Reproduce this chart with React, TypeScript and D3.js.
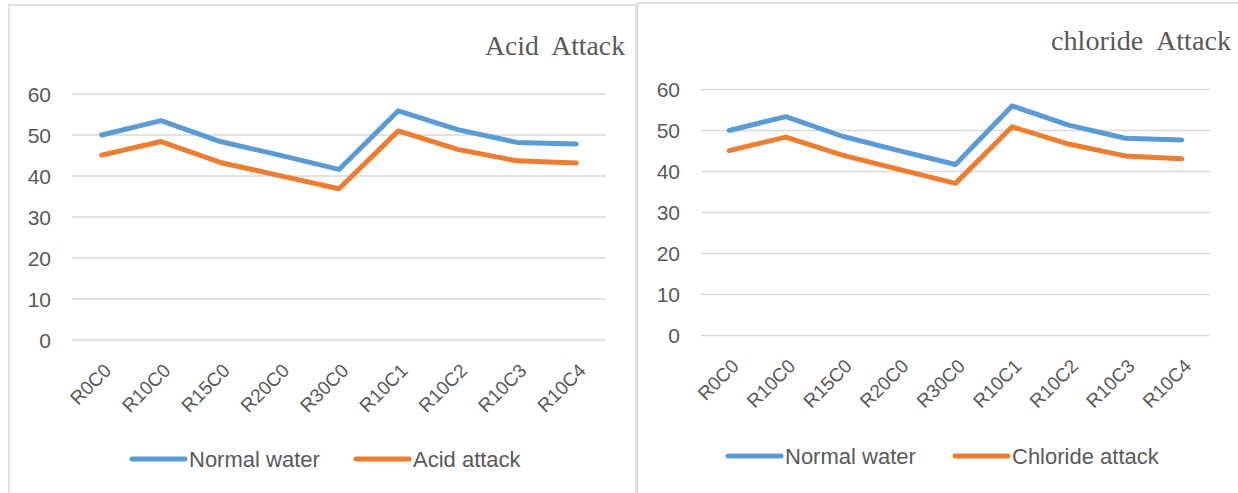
import React, { useEffect, useRef } from "react";
import * as d3 from "d3";

const categories = ["R0C0", "R10C0", "R15C0", "R20C0", "R30C0", "R10C1", "R10C2", "R10C3", "R10C4"];
const yTicks = [0, 10, 20, 30, 40, 50, 60];

const acidNormal = [50.0, 53.5, 48.4, 45.1, 41.6, 55.9, 51.3, 48.2, 47.8];
const acidAttack = [45.1, 48.4, 43.3, 40.1, 36.9, 51.0, 46.5, 43.7, 43.2];

const chlorideNormal = [50.0, 53.4, 48.6, 45.1, 41.7, 56.0, 51.3, 48.1, 47.7];
const chlorideAttack = [45.1, 48.4, 44.0, 40.5, 37.1, 50.9, 46.7, 43.8, 43.1];

const BLUE = "#5b9bd5";
const ORANGE = "#ed7d31";
const GRID = "#d9d9d9";
const TEXT = "#595959";
const SANS = "'Liberation Sans', Arial, sans-serif";
const SERIF = "'Liberation Serif', 'Times New Roman', serif";

interface PanelProps {
  title: string;
  seriesA: number[];
  seriesB: number[];
  labelA: string;
  labelB: string;
  box: { x: number; y: number; w: number; h: number };
  plot: { left: number; right: number; top: number; bottom: number };
  titleRight: number;
  titleBaseline: number;
  titleWidth: number;
  legendY: number;
  legendX: number[];
}

const Panel: React.FC<PanelProps> = (p) => {
  const ref = useRef<SVGGElement | null>(null);

  useEffect(() => {
    if (!ref.current) return;
    const g = d3.select(ref.current);
    g.selectAll("*").remove();

    // chart frame
    g.append("rect")
      .attr("x", p.box.x)
      .attr("y", p.box.y)
      .attr("width", p.box.w)
      .attr("height", p.box.h)
      .attr("fill", "#fff")
      .attr("stroke", GRID)
      .attr("stroke-width", 1.5);

    g.append("text")
      .attr("x", p.titleRight)
      .attr("y", p.titleBaseline)
      .attr("text-anchor", "end")
      .attr("font-family", SERIF)
      .attr("font-size", 28)
      .attr("fill", TEXT)
      .attr("textLength", p.titleWidth)
      .attr("lengthAdjust", "spacingAndGlyphs")
      .style("white-space", "pre")
      .text(p.title);

    const x = d3.scaleBand<string>().domain(categories).range([p.plot.left, p.plot.right]);
    const y = d3.scaleLinear().domain([0, 60]).range([p.plot.bottom, p.plot.top]);
    const cx = (i: number) => (x(categories[i]) || 0) + x.bandwidth() / 2;

    // gridlines
    g.append("g")
      .selectAll("line")
      .data(yTicks)
      .enter()
      .append("line")
      .attr("x1", p.plot.left)
      .attr("x2", p.plot.right)
      .attr("y1", (d) => y(d))
      .attr("y2", (d) => y(d))
      .attr("stroke", GRID)
      .attr("stroke-width", 1.5);

    g.append("g")
      .selectAll("text")
      .data(yTicks)
      .enter()
      .append("text")
      .attr("x", p.plot.left - 21)
      .attr("y", (d) => y(d))
      .attr("dy", "0.36em")
      .attr("text-anchor", "end")
      .attr("font-family", SANS)
      .attr("font-size", 21)
      .attr("fill", TEXT)
      .text((d) => String(d));

    // category labels, rotated
    g.append("g")
      .selectAll("text")
      .data(categories)
      .enter()
      .append("text")
      .attr("transform", (_, i) => `translate(${cx(i) + 6},${p.plot.bottom + 27}) rotate(-45)`)
      .attr("text-anchor", "end")
      .attr("dy", "0.35em")
      .attr("font-family", SANS)
      .attr("font-size", 19)
      .attr("fill", TEXT)
      .text((d) => d);

    const line = d3
      .line<number>()
      .x((_, i) => cx(i))
      .y((d) => y(d));

    [
      { data: p.seriesA, color: BLUE },
      { data: p.seriesB, color: ORANGE },
    ].forEach((s) => {
      g.append("path")
        .attr("d", line(s.data) || "")
        .attr("fill", "none")
        .attr("stroke", s.color)
        .attr("stroke-width", 5)
        .attr("stroke-linejoin", "round")
        .attr("stroke-linecap", "round");
    });

    // legend
    [
      { label: p.labelA, color: BLUE },
      { label: p.labelB, color: ORANGE },
    ].forEach((s, i) => {
      const lx = p.legendX[i];
      g.append("line")
        .attr("x1", lx)
        .attr("x2", lx + 53)
        .attr("y1", p.legendY)
        .attr("y2", p.legendY)
        .attr("stroke", s.color)
        .attr("stroke-width", 5)
        .attr("stroke-linecap", "round");
      g.append("text")
        .attr("x", lx + 57)
        .attr("y", p.legendY)
        .attr("dy", "0.36em")
        .attr("font-family", SANS)
        .attr("font-size", 22)
        .attr("fill", TEXT)
        .text(s.label);
    });
  }, [p]);

  return <g ref={ref} />;
};

export default function App() {
  return (
    <div style={{ position: "fixed", left: 0, top: 0, width: 1238, height: 493, background: "#fff" }}>
      <svg width={1238} height={493} style={{ display: "block" }}>
        <Panel
          title="Acid  Attack"
          seriesA={acidNormal}
          seriesB={acidAttack}
          labelA="Normal water"
          labelB="Acid attack"
          box={{ x: 9, y: 5, w: 627, h: 520 }}
          plot={{ left: 72, right: 606, top: 94, bottom: 340 }}
          titleRight={625}
          titleBaseline={55}
          titleWidth={140}
          legendY={459}
          legendX={[132, 356]}
        />
        <Panel
          title="chloride  Attack"
          seriesA={chlorideNormal}
          seriesB={chlorideAttack}
          labelA="Normal water"
          labelB="Chloride attack"
          box={{ x: 637.5, y: 3, w: 640, h: 520 }}
          plot={{ left: 701, right: 1210, top: 89.5, bottom: 335.5 }}
          titleRight={1231}
          titleBaseline={50}
          titleWidth={180}
          legendY={456}
          legendX={[728, 955]}
        />
      </svg>
    </div>
  );
}
